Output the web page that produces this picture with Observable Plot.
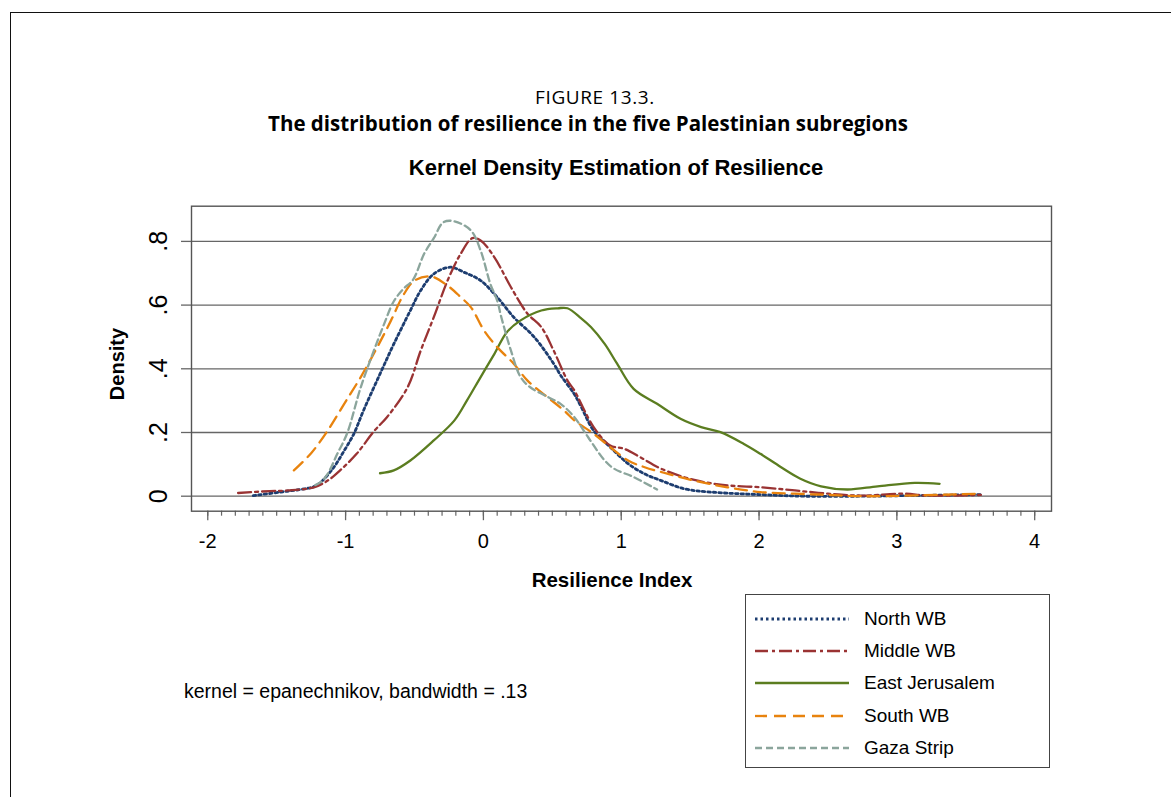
<!DOCTYPE html>
<html><head><meta charset="utf-8">
<script src="https://cdn.jsdelivr.net/npm/d3@7"></script>
<script src="https://cdn.jsdelivr.net/npm/@observablehq/plot@0.6"></script>
<style>
body{margin:0;background:#fff;}
#wrap{position:relative;width:1171px;height:797px;overflow:hidden;font-family:"Liberation Sans",Arial,sans-serif;color:#000;}
#wrap > svg.main{position:absolute;left:0;top:0;}
.abs{position:absolute;white-space:nowrap;line-height:1;}
.c{transform:translate(-50%,-50%);}
#border{position:absolute;left:10px;top:12px;right:-5px;bottom:-5px;border-left:1.6px solid #111;border-top:1.6px solid #111;}
#legend{position:absolute;left:745px;top:594px;width:305px;height:174px;border:1.3px solid #444;box-sizing:border-box;background:#fff;}
.lrow{position:absolute;left:0;height:30px;width:300px;}
.lrow svg{position:absolute;left:9px;top:0;}
.lrow span{position:absolute;left:118px;top:50%;transform:translateY(-50%);font-size:19px;white-space:nowrap;}
</style></head><body><div id="wrap"><div id="border"></div></div>
<script>
// ---- data ----
const seriesNames = ["North WB", "Middle WB", "East Jerusalem", "South WB", "Gaza Strip"];
const seriesColors = ["#1d3d70", "#9a3333", "#5b7d20", "#e8830e", "#8ba59c"];
const seriesDashes = ["2.5,3", "13,4,3,4", null, "12,7", "7,4"];
const seriesWidths = [2.8, 2.3, 2.3, 2.3, 2.3];

const northX = [-1.67,-1.47,-1.30,-1.23,-1.18,-1.085,-1.01,-0.94,-0.87,-0.75,-0.65,-0.53,-0.455,-0.36,-0.24,-0.14,-0.02,0.10,0.22,0.37,0.51,0.56,0.66,0.71,0.80,0.92,1.05,1.17,1.29,1.46,1.65,2.01,2.33,2.74,3.10,3.61];
const northY = [0.002,0.013,0.023,0.03,0.044,0.091,0.143,0.196,0.269,0.384,0.478,0.583,0.646,0.698,0.719,0.703,0.677,0.625,0.562,0.499,0.416,0.38,0.32,0.28,0.206,0.154,0.102,0.07,0.049,0.023,0.013,0.005,0.0,0.0,0.002,0.005];

const middleX = [-1.78,-1.55,-1.42,-1.23,-1.13,-1.04,-0.92,-0.79,-0.70,-0.55,-0.455,-0.36,-0.26,-0.165,-0.08,-0.02,0.08,0.20,0.32,0.42,0.51,0.61,0.66,0.80,0.92,1.02,1.14,1.29,1.53,1.77,2.01,2.26,2.50,2.74,3.05,3.22,3.61];
const middleY = [0.01,0.016,0.018,0.028,0.049,0.081,0.133,0.206,0.248,0.342,0.457,0.562,0.677,0.761,0.81,0.803,0.75,0.656,0.573,0.531,0.457,0.363,0.332,0.217,0.159,0.149,0.122,0.086,0.051,0.034,0.028,0.018,0.008,0.002,0.008,0.002,0.004];

const eastX = [-0.75,-0.65,-0.53,-0.36,-0.21,-0.12,-0.02,0.08,0.17,0.27,0.42,0.54,0.61,0.71,0.78,0.88,0.97,1.09,1.26,1.43,1.58,1.72,1.89,2.01,2.16,2.30,2.45,2.64,2.86,3.13,3.31];
const eastY = [0.072,0.081,0.112,0.175,0.238,0.30,0.374,0.447,0.515,0.552,0.583,0.59,0.59,0.558,0.531,0.478,0.416,0.337,0.29,0.243,0.217,0.201,0.164,0.133,0.091,0.055,0.031,0.021,0.031,0.042,0.039];

const southX = [-1.375,-1.25,-1.13,-1.01,-0.89,-0.77,-0.67,-0.58,-0.50,-0.38,-0.26,-0.165,-0.09,0.005,0.10,0.22,0.32,0.465,0.585,0.66,0.80,0.92,1.05,1.17,1.34,1.53,1.77,2.01,2.26,2.50,2.74,3.10,3.61];
const southY = [0.081,0.135,0.206,0.29,0.374,0.468,0.552,0.632,0.677,0.69,0.661,0.625,0.593,0.52,0.468,0.416,0.363,0.311,0.269,0.238,0.196,0.154,0.112,0.091,0.07,0.049,0.028,0.013,0.008,0.004,0.0,0.002,0.008];

const gazaX = [-1.22,-1.18,-1.13,-1.06,-0.99,-0.89,-0.795,-0.72,-0.65,-0.58,-0.51,-0.43,-0.36,-0.29,-0.21,-0.09,-0.02,0.05,0.10,0.13,0.20,0.27,0.34,0.47,0.56,0.66,0.76,0.88,0.95,1.09,1.26];
const gazaY = [0.035,0.044,0.07,0.133,0.196,0.342,0.457,0.541,0.612,0.651,0.68,0.761,0.81,0.86,0.863,0.834,0.771,0.667,0.614,0.562,0.457,0.374,0.342,0.311,0.29,0.248,0.185,0.112,0.086,0.06,0.021];

const seriesX = [northX, middleX, eastX, southX, gazaX];
const seriesY = [northY, middleY, eastY, southY, gazaY];

const xMajorTicks = [-2, -1, 0, 1, 2, 3, 4];
const xTickLabels = ["-2", "-1", "0", "1", "2", "3", "4"];
const xMinorTicks = d3.range(-20, 41).map(i => i / 10);
const yTicks = [0, 0.2, 0.4, 0.6, 0.8];
const yTickLabels = ["0", ".2", ".4", ".6", ".8"];

const figureLabel = "FIGURE 13.3.";
const figureTitle = "The distribution of resilience in the five Palestinian subregions";
const chartTitle = "Kernel Density Estimation of Resilience";
const xTitle = "Resilience Index";
const yTitle = "Density";
const noteText = "kernel = epanechnikov, bandwidth = .13";

// ---- build ----
const tables = seriesNames.map((name, i) => seriesX[i].map((x, j) => ({series: name, x, y: seriesY[i][j]})));

const gridColor = "#666";
const chart = Plot.plot({
  width: 1171, height: 797,
  marginLeft: 191, marginRight: 120, marginTop: 205.7, marginBottom: 286.3,
  x: {domain: [-2.118, 4.122], label: null},
  y: {domain: [-0.0471, 0.9105], label: null},
  style: {fontFamily: "'Liberation Sans', Arial, sans-serif", background: "transparent", overflow: "visible"},
  marks: [
    Plot.ruleY(yTicks, {stroke: gridColor, strokeWidth: 1.3}),
    Plot.axisY({ticks: yTicks, tickSize: 10, tickFormat: () => "", label: null, stroke: gridColor, strokeWidth: 1.3, strokeOpacity: 1}),
    Plot.text(yTicks, {y: d => d, text: (d, i) => yTickLabels[i], frameAnchor: "left", dx: -33, rotate: -90, fontSize: 25, textAnchor: "middle", lineAnchor: "middle", fill: "#000"}),
    Plot.axisX({ticks: xMinorTicks, tickSize: 5, tickFormat: () => "", label: null, stroke: gridColor, strokeWidth: 1.2, strokeOpacity: 1}),
    Plot.axisX({ticks: xMajorTicks, tickSize: 9.5, tickPadding: 13, tickFormat: (d, i) => xTickLabels[i], label: null, fontSize: 20, stroke: gridColor, strokeWidth: 1.3, strokeOpacity: 1, fill: "#000"}),
    ...tables.map((t, i) => Plot.line(t, {x: "x", y: "y", stroke: seriesColors[i], strokeWidth: seriesWidths[i], strokeDasharray: seriesDashes[i], curve: "catmull-rom"})),
    Plot.frame({stroke: "#555", strokeWidth: 1.4})
  ]
});
chart.classList.add("main");
const wrap = document.getElementById("wrap");
wrap.appendChild(chart);

function addText(txt, x, y, css, cls) {
  const d = document.createElement("div");
  d.className = "abs " + (cls || "c");
  d.textContent = txt;
  d.style.left = x + "px"; d.style.top = y + "px";
  Object.assign(d.style, css || {});
  wrap.appendChild(d);
  return d;
}
addText(figureLabel, 595, 97, {fontFamily: "'Open Sans', sans-serif", fontSize: "19px", letterSpacing: "0.6px"});
addText(figureTitle, 588, 123, {fontFamily: "'Open Sans', sans-serif", fontSize: "20.5px", fontWeight: "bold"});
addText(chartTitle, 616, 168, {fontSize: "22px", fontWeight: "bold"});
addText(xTitle, 612, 580, {fontSize: "20.5px", fontWeight: "bold"});
const yt = addText(yTitle, 117, 364, {fontSize: "20px", fontWeight: "bold"});
yt.style.transform = "translate(-50%,-50%) rotate(-90deg)";
addText(noteText, 184, 692, {fontSize: "19.5px", transform: "translateY(-50%)"}, "n");

// legend
const legend = document.createElement("div");
legend.id = "legend";
wrap.appendChild(legend);
const rowCenters = [23.7, 56.3, 87.7, 121, 152.7];
seriesNames.forEach((name, i) => {
  const row = document.createElement("div");
  row.className = "lrow";
  row.style.top = (rowCenters[i] - 15) + "px";
  const svg = d3.create("svg").attr("width", 96).attr("height", 30);
  svg.append("line").attr("x1", 0).attr("x2", 94).attr("y1", 15).attr("y2", 15)
    .attr("stroke", seriesColors[i]).attr("stroke-width", seriesWidths[i])
    .attr("stroke-dasharray", seriesDashes[i]);
  row.appendChild(svg.node());
  const s = document.createElement("span");
  s.textContent = name;
  row.appendChild(s);
  legend.appendChild(row);
});
</script></body></html>
